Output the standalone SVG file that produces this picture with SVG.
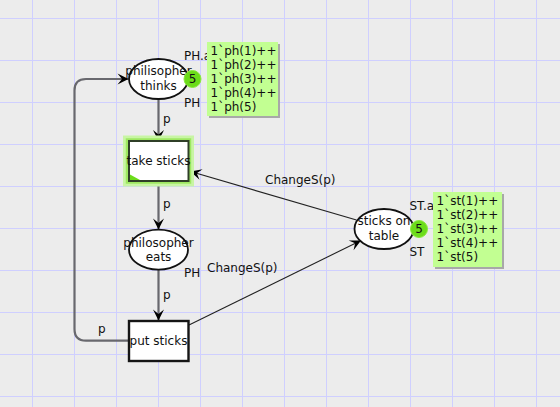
<svg xmlns="http://www.w3.org/2000/svg" width="560" height="407" viewBox="0 0 560 407">
<defs>
<style>
text{font-family:"DejaVu Sans","Liberation Sans",sans-serif;font-size:12px;fill:#111}
.mid{text-anchor:middle}
.grid{stroke:#cfcfff;stroke-width:1}
.place{fill:#fff;stroke:#111;stroke-width:1.8}
.trans{fill:#fff;stroke:#151515;stroke-width:2.4}
.arc{fill:none;stroke:#68686e;stroke-width:2.2}
.arc2{fill:none;stroke:#222;stroke-width:1.1}
.tok{fill:#6cdc1a;stroke:#8be840;stroke-width:1}
.box{fill:#c2ff92}
.shadow{fill:#a8a8a8}
</style>
<marker id="ah" viewBox="-12 -6 13 12" refX="0" refY="0" markerWidth="13" markerHeight="12" markerUnits="userSpaceOnUse" orient="auto">
<path d="M0,0 L-11,-5.5 L-6.5,0 L-11,5.5 Z" fill="#000"/>
</marker>
</defs>
<rect width="560" height="407" fill="#ececec"/>
<g id="grid">
<path class="grid" d="M32.5,0V407M74.5,0V407M116.5,0V407M158.5,0V407M200.5,0V407M242.5,0V407M284.5,0V407M326.5,0V407M368.5,0V407M410.5,0V407M452.5,0V407M494.5,0V407M536.5,0V407M0,18.5H560M0,60.5H560M0,102.5H560M0,144.5H560M0,186.5H560M0,228.5H560M0,270.5H560M0,312.5H560M0,354.5H560M0,396.5H560"/>
</g>
<g id="connectors">
<line class="arc" x1="158.5" y1="99" x2="158.5" y2="141" marker-end="url(#ah)"/>
<line class="arc" x1="158.5" y1="181" x2="158.5" y2="229.5" marker-end="url(#ah)"/>
<line class="arc" x1="158.5" y1="269.5" x2="158.5" y2="320.5" marker-end="url(#ah)"/>
<path class="arc" d="M133,340.7 H86 Q74.5,340.7 74.5,329 V90.5 Q74.5,79 86,79 H128.5" marker-end="url(#ah)"/>
<line class="arc2" x1="356.5" y1="220" x2="190.5" y2="171.5" marker-end="url(#ah)"/>
<line class="arc2" x1="189" y1="325" x2="361" y2="240.5" marker-end="url(#ah)"/>
<text x="163" y="122.5">p</text>
<text x="163" y="207.5">p</text>
<text x="163" y="298.5">p</text>
<text x="98" y="332.5">p</text>
<text x="265" y="184">ChangeS(p)</text>
<text x="207" y="272">ChangeS(p)</text>
</g>
<g id="philisopher-thinks">
<text x="184" y="60">PH.a</text>
<text x="184" y="107">PH</text>
<ellipse class="place" cx="158.5" cy="79" rx="29.5" ry="20"/>
<text class="mid" x="158.5" y="75.3">philisopher</text>
<text class="mid" x="158.5" y="90">thinks</text>
<circle class="tok" cx="192.5" cy="79" r="8.5"/>
<text class="mid" x="192.5" y="83.3">5</text>
<rect class="shadow" x="209" y="44" width="71" height="74"/>
<rect class="box" x="207" y="42" width="71" height="74"/>
<text x="210.5" y="55.3">1`ph(1)++</text>
<text x="210.5" y="69.3">1`ph(2)++</text>
<text x="210.5" y="83.3">1`ph(3)++</text>
<text x="210.5" y="97.3">1`ph(4)++</text>
<text x="210.5" y="111.3">1`ph(5)</text>
</g>
<g id="take-sticks">
<rect x="125" y="137.5" width="67" height="47" fill="none" stroke="#c8f5a4" stroke-width="4"/>
<rect x="127" y="139.5" width="63" height="43" fill="none" stroke="#9ee862" stroke-width="2.5"/>
<rect x="129" y="141" width="59.5" height="40" fill="#fff" stroke="#2f3f27" stroke-width="2"/>
<path d="M130,174.5 L130,180 L140,180 Z" fill="#6cdc1a"/>
<text class="mid" x="158.5" y="164.5">take sticks</text>
</g>
<g id="philosopher-eats">
<text x="184" y="276.7">PH</text>
<ellipse class="place" cx="158.5" cy="249.7" rx="29.5" ry="20"/>
<text class="mid" x="158.5" y="246.5">philosopher</text>
<text class="mid" x="158.5" y="261">eats</text>
</g>
<g id="put-sticks">
<rect class="trans" x="129" y="321" width="59.5" height="40"/>
<text class="mid" x="158.5" y="344.5">put sticks</text>
</g>
<g id="sticks-on-table">
<text x="409.5" y="210">ST.a</text>
<text x="409.5" y="256">ST</text>
<ellipse class="place" cx="384" cy="229" rx="29.5" ry="20"/>
<text class="mid" x="384" y="225.3">sticks on</text>
<text class="mid" x="384" y="239.5">table</text>
<circle class="tok" cx="419" cy="229" r="8.5"/>
<text class="mid" x="419" y="233.3">5</text>
<rect class="shadow" x="435" y="194" width="69" height="75"/>
<rect class="box" x="433" y="192" width="69" height="75"/>
<text x="436.5" y="204.5">1`st(1)++</text>
<text x="436.5" y="218.8">1`st(2)++</text>
<text x="436.5" y="232.8">1`st(3)++</text>
<text x="436.5" y="246.8">1`st(4)++</text>
<text x="436.5" y="260.8">1`st(5)</text>
</g>
</svg>
